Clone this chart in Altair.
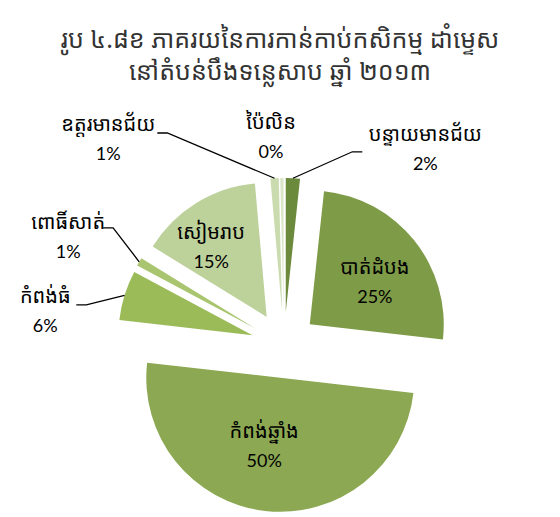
import altair as alt
import pandas as pd
import numpy as np

# ---- data ----
regions = ["បន្ទាយមានជ័យ", "បាត់ដំបង", "កំពង់ឆ្នាំង", "កំពង់ធំ",
           "ពោធិ៍សាត់", "សៀមរាប", "ឧត្តរមានជ័យ", "ប៉ៃលិន"]
shares = [1.7, 25.1, 50.0, 6.0, 1.0, 14.8, 1.0, 0.4]
pct_labels = ["2%", "25%", "50%", "6%", "1%", "15%", "1%", "0%"]
colors = ["#6b8a3c", "#7e9b48", "#8ca852", "#9bbb59",
          "#a9c56f", "#bdd19b", "#cadcaf", "#dbe6c8"]
title_lines = ["រូប ៤.៨ខ ភាគរយនៃការកាន់កាប់កសិកម្ម ដាំម្ទេស",
               "នៅតំបន់បឹងទន្លេសាប ឆ្នាំ ២០១៣"]

# ---- layout ----
W, H = 544, 501
CX, CY = 276, 337
R = 134
EXPLODE = 33
TITLE_X, TITLE_Y, TITLE_LH = 272, 32, 32
# label placement (polar around pie centre: degrees clockwise from north, distance px)
label_polar = {
    "បន្ទាយមានជ័យ": (35.9, 241), "បាត់ដំបង": (55.7, 110), "កំពង់ឆ្នាំង": (191, 104),
    "កំពង់ធំ": (277.9, 241), "ពោធិ៍សាត់": (296.4, 241), "សៀមរាប": (323, 121),
    "ឧត្តរមានជ័យ": (319.4, 270), "ប៉ៃលិន": (356.4, 207),
}
# leader line end relative to label centre (dx, dy)
leaders = {"បន្ទាយមានជ័យ": (-63, 2), "ឧត្តរមានជ័យ": (49, -7),
           "ពោធិ៍សាត់": (35, -10), "កំពង់ធំ": (31, -7)}

FONT = "Noto Sans Khmer, Khmer OS, Noto Sans, sans-serif"
NUMFONT = "Lato, Open Sans, sans-serif"

total = sum(shares)
ang = np.array(shares) / total * 2 * np.pi
t1 = np.cumsum(ang)
t0 = t1 - ang
mid = (t0 + t1) / 2

df = pd.DataFrame({
    "region": regions, "share": shares, "pct": pct_labels,
    "t0": t0, "t1": t1,
    "ox": CX + EXPLODE * np.sin(mid), "oy": CY - EXPLODE * np.cos(mid),
})
la = np.radians([label_polar[r][0] for r in regions])
ld = np.array([label_polar[r][1] for r in regions])
df["lx"] = CX + ld * np.sin(la)
df["ly"] = CY - ld * np.cos(la)
df["ly1"] = df["ly"] - 15
df["ly2"] = df["ly"] + 15

rows = []
for i, r in enumerate(regions):
    if r not in leaders:
        continue
    ex, ey = leaders[r]
    px = CX + (EXPLODE + R) * np.sin(mid[i])
    py = CY - (EXPLODE + R) * np.cos(mid[i])
    lx, ly = df.loc[i, "lx"], df.loc[i, "ly"]
    elx = lx + ex + 10 * np.sign(ex)
    rows += [
        {"region": r, "k": 0, "x": px, "y": py},
        {"region": r, "k": 1, "x": elx, "y": ly + ey},
        {"region": r, "k": 2, "x": lx + ex, "y": ly + ey},
    ]
lead_df = pd.DataFrame(rows)

xs = alt.Scale(domain=[0, W], range=[0, W])
ys = alt.Scale(domain=[0, H], range=[0, H])

base = alt.Chart(df)
arcs = base.mark_arc(radius=R).encode(
    x=alt.X("ox:Q", scale=xs, axis=None),
    y=alt.Y("oy:Q", scale=ys, axis=None),
    theta=alt.Theta("t0:Q", scale=None),
    theta2="t1:Q",
    color=alt.Color("region:N", scale=alt.Scale(domain=regions, range=colors), legend=None),
)
lines = alt.Chart(lead_df).mark_line(color="black", strokeWidth=1.3).encode(
    x=alt.X("x:Q", scale=xs, axis=None),
    y=alt.Y("y:Q", scale=ys, axis=None),
    detail="region:N",
    order="k:Q",
)
names = base.mark_text(font=FONT, fontSize=20, color="black").encode(
    x=alt.X("lx:Q", scale=xs, axis=None),
    y=alt.Y("ly1:Q", scale=ys, axis=None),
    text="region:N",
)
pcts = base.mark_text(font=NUMFONT, fontSize=18, color="black").encode(
    x=alt.X("lx:Q", scale=xs, axis=None),
    y=alt.Y("ly2:Q", scale=ys, axis=None),
    text="pct:N",
)
title_df = pd.DataFrame({
    "t": title_lines,
    "tx": [TITLE_X] * len(title_lines),
    "ty": [TITLE_Y + i * TITLE_LH for i in range(len(title_lines))],
})
title = alt.Chart(title_df).mark_text(font=FONT, fontSize=25, color="#333333").encode(
    x=alt.X("tx:Q", scale=xs, axis=None),
    y=alt.Y("ty:Q", scale=ys, axis=None),
    text="t:N",
)

chart = alt.layer(arcs, lines, names, pcts, title).properties(
    width=W, height=H, padding=0
).configure_view(stroke=None)

chart.save("out.html", embed_options={"renderer": "svg", "actions": False})
